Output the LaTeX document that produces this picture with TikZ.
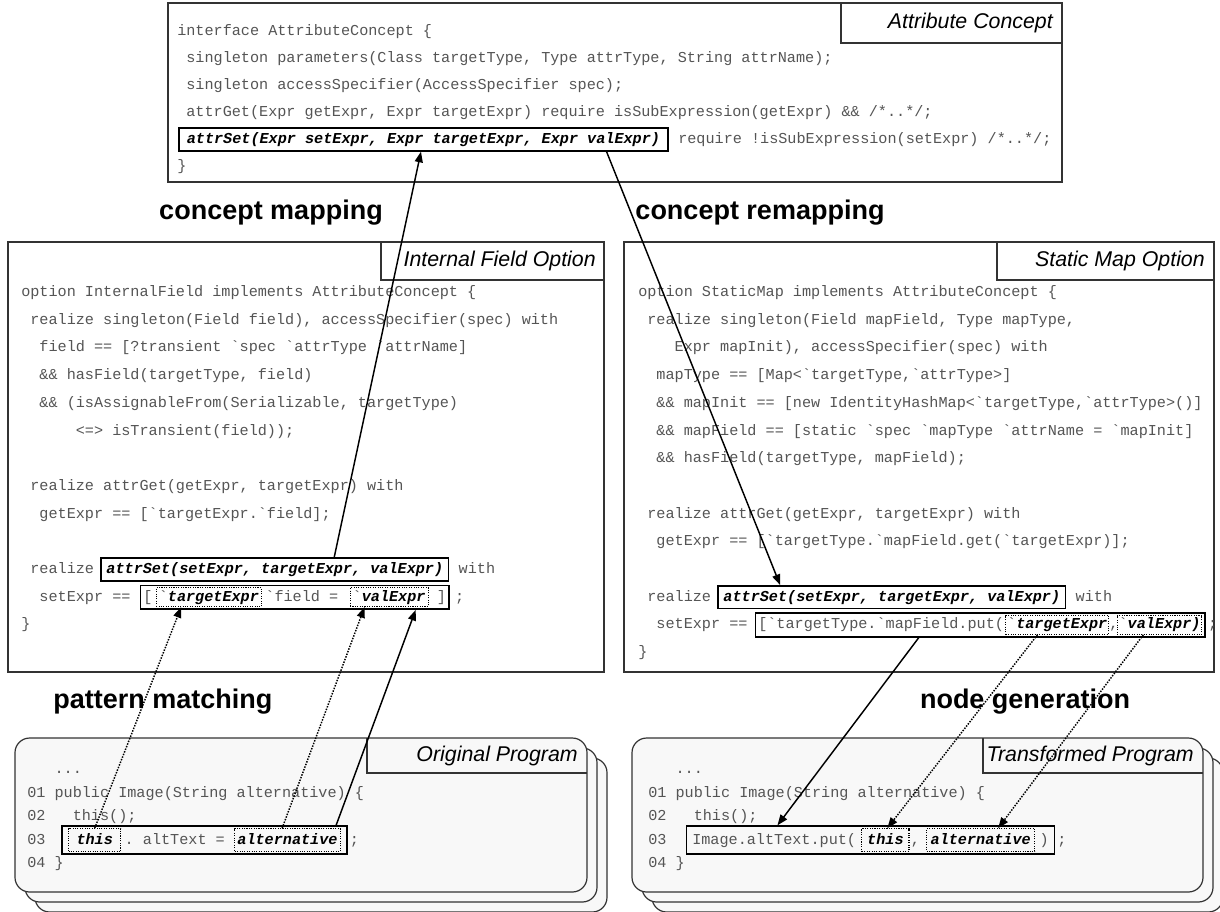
\documentclass[tikz,border=0pt]{standalone}
\usepackage{fontspec}
\setmainfont{Liberation Sans}
\setmonofont{Liberation Mono}
\newfontfamily\lsans{Liberation Sans}
\usetikzlibrary{arrows.meta,calc,fit}
\definecolor{codegray}{HTML}{555555}
\definecolor{boxline}{HTML}{333333}
\definecolor{progfill}{HTML}{F8F8F8}
\newcommand{\cfnt}{\ttfamily\fontsize{11.375pt}{13pt}\selectfont}
\newcommand{\bq}{{\mdseries\upshape\color{codegray}`}}
\newcommand{\Tx}[1]{177+#1*9.1}
\newcommand{\Ty}[1]{35.5+#1*27}
\newcommand{\Lx}[1]{21+#1*9.1}
\newcommand{\Rx}[1]{638+#1*9.1}
\newcommand{\Ly}[1]{296.5+#1*27.7}
\newcommand{\BLx}[1]{27+#1*9.1}
\newcommand{\BRx}[1]{648+#1*9.1}
\newcommand{\By}[1]{773.5+#1*23.5}
\tikzset{
 code/.style={inner sep=0pt, anchor=base west, font=\cfnt, text=codegray},
 hlsolid/.style={draw=black, line width=1.2pt, inner xsep=4pt, inner ysep=3pt, text height=8.5pt, text depth=2.5pt, anchor=base west, font={\cfnt\bfseries\itshape}, text=black},
 hldot/.style={draw=black, densely dotted, line width=0.8pt, inner xsep=2pt, inner ysep=1.5pt, text height=8.5pt, text depth=2.5pt, anchor=base west, font={\cfnt\bfseries\itshape}, text=black},
 fitsolid/.style={draw=black, line width=1.2pt, inner xsep=2pt, inner ysep=1.5pt},
 frame/.style={draw=boxline, line width=0.9pt, fill=white},
 tabline/.style={draw=boxline, line width=0.9pt},
 prog/.style={draw=boxline, line width=0.9pt, fill=progfill, rounded corners=11pt},
 tabtxt/.style={font={\lsans\itshape\fontsize{16pt}{18pt}\selectfont}, anchor=east, inner sep=0pt},
 lbl/.style={font={\lsans\bfseries\fontsize{20.25pt}{24pt}\selectfont}, inner sep=0pt},
 conn/.style={line width=1.1pt, -{Triangle[length=8pt,width=6pt]}},
 dconn/.style={conn, densely dotted},
}
\begin{document}
\begin{tikzpicture}[x=0.75pt,y=-0.75pt]
\useasboundingbox (0,0) rectangle (1220,911);
\fill[white] (0,0) rectangle (1220,911);
\clip (0,0) rectangle (1220,911);

% ---------------- top box
\draw[frame] (168,3) rectangle (1062,182);
\draw[tabline] (841,3) |- (1062,43);
\node[tabtxt] (ttab) at (1053,23) {Attribute Concept};
\node[code] (t1) at ({\Tx{0}},{\Ty{0}}) {interface AttributeConcept \{};
\node[code] (t2) at ({\Tx{1}},{\Ty{1}}) {singleton parameters(Class targetType, Type attrType, String attrName);};
\node[code] (t3) at ({\Tx{1}},{\Ty{2}}) {singleton accessSpecifier(AccessSpecifier spec);};
\node[code] (t4) at ({\Tx{1}},{\Ty{3}}) {attrGet(Expr getExpr, Expr targetExpr) require isSubExpression(getExpr) \&\& /*..*/;};
\node[hlsolid, inner xsep=6pt] (tset) at (178,{\Ty{4}}) {attrSet(Expr setExpr, Expr targetExpr, Expr valExpr)};
\node[code] (t5) at ($(tset.base east)+(9.1,0)$) {require !isSubExpression(setExpr) /*..*/;};
\node[code] (t6) at ({\Tx{0}},{\Ty{5}}) {\}};

% ---------------- left box
\draw[frame] (8,242) rectangle (604,672);
\draw[tabline] (381,242) |- (604,280);
\node[tabtxt] (ltab) at (596,261) {Internal Field Option};
\node[code] (l0) at ({\Lx{0}},{\Ly{0}}) {option InternalField implements AttributeConcept \{};
\node[code] (l1) at ({\Lx{1}},{\Ly{1}}) {realize singleton(Field field), accessSpecifier(spec) with};
\node[code] (l2) at ({\Lx{2}},{\Ly{2}}) {field == [?transient `spec `attrType `attrName]};
\node[code] (l3) at ({\Lx{2}},{\Ly{3}}) {\&\& hasField(targetType, field)};
\node[code] (l4) at ({\Lx{2}},{\Ly{4}}) {\&\& (isAssignableFrom(Serializable, targetType)};
\node[code] (l5) at ({\Lx{6}},{\Ly{5}}) {<=> isTransient(field));};
\node[code] (l6) at ({\Lx{1}},{\Ly{7}}) {realize attrGet(getExpr, targetExpr) with};
\node[code] (l7) at ({\Lx{2}},{\Ly{8}}) {getExpr == [`targetExpr.`field];};
\node[code] (l8) at ({\Lx{1}},{\Ly{10}}) {realize};
\node[hlsolid] (lset) at ($(l8.base east)+(6,0)$) {attrSet(setExpr, targetExpr, valExpr)};
\node[code] (l8b) at ($(lset.base east)+(9.1,0)$) {with};
\node[code] (l9) at ({\Lx{2}},{\Ly{11}}) {setExpr ==};
\node[code] (lb1) at (143,{\Ly{11}}) {[};
\node[hldot] (ltgt) at ($(lb1.base east)+(3,0)$) {\bq targetExpr};
\node[code] (lf) at ($(ltgt.base east)+(3,0)$) {`field =};
\node[hldot] (lval) at ($(lf.base east)+(11,0)$) {\bq valExpr};
\node[code] (lb2) at ($(lval.base east)+(8,0)$) {]};
\node[fitsolid, fit=(lb1)(ltgt)(lval)(lb2)] (lsetx) {};
\node[code] (lsemi) at ($(lsetx.east |- lb2.base)+(5,0)$) {;};
\node[code] (l10) at ({\Lx{0}},{\Ly{12}}) {\}};

% ---------------- right box
\draw[frame] (624,242) rectangle (1214,672);
\draw[tabline] (997,242) |- (1214,280);
\node[tabtxt] (rtab) at (1205,261) {Static Map Option};
\node[code] (r0) at ({\Rx{0}},{\Ly{0}}) {option StaticMap implements AttributeConcept \{};
\node[code] (r1) at ({\Rx{1}},{\Ly{1}}) {realize singleton(Field mapField, Type mapType,};
\node[code] (r2) at ({\Rx{4}},{\Ly{2}}) {Expr mapInit), accessSpecifier(spec) with};
\node[code] (r3) at ({\Rx{2}},{\Ly{3}}) {mapType == [Map<`targetType,`attrType>]};
\node[code] (r4) at ({\Rx{2}},{\Ly{4}}) {\&\& mapInit == [new IdentityHashMap<`targetType,`attrType>()]};
\node[code] (r5) at ({\Rx{2}},{\Ly{5}}) {\&\& mapField == [static `spec `mapType `attrName = `mapInit]};
\node[code] (r6) at ({\Rx{2}},{\Ly{6}}) {\&\& hasField(targetType, mapField);};
\node[code] (r7) at ({\Rx{1}},{\Ly{8}}) {realize attrGet(getExpr, targetExpr) with};
\node[code] (r8) at ({\Rx{2}},{\Ly{9}}) {getExpr == [`targetType.`mapField.get(`targetExpr)];};
\node[code] (r9) at ({\Rx{1}},{\Ly{11}}) {realize};
\node[hlsolid] (rset) at ($(r9.base east)+(6,0)$) {attrSet(setExpr, targetExpr, valExpr)};
\node[code] (r9b) at ($(rset.base east)+(9.1,0)$) {with};
\node[code] (r10) at ({\Rx{2}},{\Ly{12}}) {setExpr ==};
\node[code] (rb1) at (758,{\Ly{12}}) {[`targetType.`mapField.put(};
\node[hldot, inner xsep=1pt] (rtgt) at ($(rb1.base east)+(1,0)$) {\bq targetExpr};
\node[code] (rcm) at (rtgt.base east) {,};
\node[hldot, inner xsep=1pt] (rval) at ($(rcm.base east)+(-2,0)$) {\bq valExpr)};
\node[fitsolid, fit=(rb1)(rtgt)(rval)] (rsetx) {};
\node[code] (rsemi) at ($(rsetx.east |- rb1.base)+(2,0)$) {;};
\node[code] (r11) at ({\Rx{0}},{\Ly{13}}) {\}};

% ---------------- labels
\node[lbl] (cmap) at (271,213) {concept mapping};
\node[lbl] (cremap) at (760,213) {concept remapping};
\node[lbl] (pmatch) at (163,702) {pattern matching};
\node[lbl] (ngen) at (1025,702) {node generation};

% ---------------- original program
\draw[prog] (35,758) rectangle (607,912);
\draw[prog] (25,748) rectangle (597,902);
\draw[prog] (15,738) rectangle (587,892);
\draw[tabline] (367,738) |- (587,773);
\node[tabtxt] (otab) at (578,756) {Original Program};
\node[code] (o0) at ({\BLx{3}},{\By{0}}) {...};
\node[code] (o1) at ({\BLx{0}},{\By{1}}) {01 public Image(String alternative) \{};
\node[code] (o2) at ({\BLx{0}},{\By{2}}) {02};
\node[code] (o2b) at ({\BLx{5}},{\By{2}}) {this();};
\node[code] (o3) at ({\BLx{0}},{\By{3}}) {03};
\node[hldot, inner xsep=6pt, inner ysep=3pt] (lthis) at (68,{\By{3}}) {this};
\node[code] (o3b) at ($(lthis.base east)+(3,0)$) {. altText =};
\node[hldot, inner ysep=3pt] (lalt) at ($(o3b.base east)+(9.1,0)$) {alternative};
\node[fitsolid, fit=(lthis)(lalt), inner xsep=4.5pt] (lprog) {};
\node[code] (o3c) at ($(lprog.east |- o3b.base)+(2,0)$) {;};
\node[code] (o4) at ({\BLx{0}},{\By{4}}) {04 \}};

% ---------------- transformed program
\draw[prog] (652,758) rectangle (1223,912);
\draw[prog] (642,748) rectangle (1213,902);
\draw[prog] (632,738) rectangle (1203,892);
\draw[tabline] (983,738) |- (1203,773);
\node[tabtxt] (ptab) at (1194,756) {Transformed Program};
\node[code] (p0) at ({\BRx{3}},{\By{0}}) {...};
\node[code] (p1) at ({\BRx{0}},{\By{1}}) {01 public Image(String alternative) \{};
\node[code] (p2) at ({\BRx{0}},{\By{2}}) {02};
\node[code] (p2b) at ({\BRx{5}},{\By{2}}) {this();};
\node[code] (p3) at ({\BRx{0}},{\By{3}}) {03};
\node[code] (p3b) at (692,{\By{3}}) {Image.altText.put(};
\node[hldot, inner xsep=4pt, inner ysep=3pt] (rthis) at ($(p3b.base east)+(5,0)$) {this};
\node[code] (p3c) at ($(rthis.base east)+(1,0)$) {,};
\node[hldot, inner xsep=3pt, inner ysep=3pt] (ralt) at ($(p3c.base east)+(6,0)$) {alternative};
\node[code] (p3d) at ($(ralt.base east)+(4,0)$) {)};
\node[fitsolid, fit=(p3b)(ralt)(p3d), inner xsep=4pt] (rprog) {};
\node[code] (p3e) at ($(rprog.east |- p3b.base)+(2,0)$) {;};
\node[code] (p4) at ({\BRx{0}},{\By{4}}) {04 \}};

% ---------------- connectors
\draw[conn] ($(lset.north west)!0.67!(lset.north east)$) -- ($(tset.south west)!0.495!(tset.south east)$);
\draw[conn] ($(tset.south west)!0.873!(tset.south east)$) -- ($(rset.north west)!0.18!(rset.north east)$);
\draw[dconn] (lthis.north) -- ($(ltgt.south west)!0.24!(ltgt.south east)$);
\draw[dconn] ($(lalt.north west)!0.45!(lalt.north east)$) -- ($(lval.south west)!0.19!(lval.south east)$);
\draw[conn] ($(lprog.north west)!0.96!(lprog.north east)$) -- ($(lsetx.south west)!0.89!(lsetx.south east)$);
\draw[conn] ($(rsetx.south west)!0.364!(rsetx.south east)$) -- ($(rprog.north west)!0.248!(rprog.north east)$);
\draw[dconn] ($(rtgt.south west)!0.31!(rtgt.south east)$) -- ($(rthis.north west)!0.54!(rthis.north east)$);
\draw[dconn] ($(rval.south west)!0.31!(rval.south east)$) -- ($(ralt.north west)!0.66!(ralt.north east)$);
\end{tikzpicture}
\end{document}
